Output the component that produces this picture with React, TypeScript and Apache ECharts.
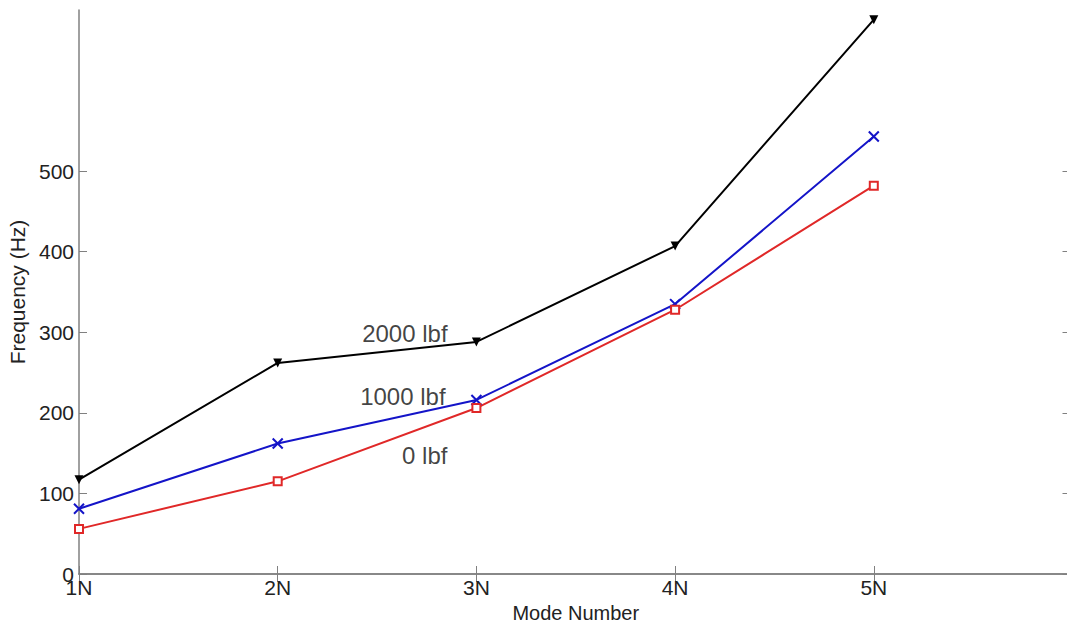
import React, { useEffect, useRef } from "react";
import * as echarts from "echarts";

const modes = [1, 2, 3, 4, 5];
const xTickLabels = ["1N", "2N", "3N", "4N", "5N"];
const yTickValues = [0, 100, 200, 300, 400, 500];
const load2000 = [117, 262, 288, 407, 688];
const load1000 = [81, 162, 216, 335, 543];
const load0 = [56, 115, 206, 328, 482];
const annotations = [
  { text: "2000 lbf", x: 2.64, y: 299 },
  { text: "1000 lbf", x: 2.63, y: 220 },
  { text: "0 lbf", x: 2.74, y: 147 },
];

const FONT = "'Liberation Sans', Arial, sans-serif";

export default function App() {
  const ref = useRef<HTMLDivElement>(null);
  useEffect(() => {
    const chart = echarts.init(ref.current!, null, { renderer: "svg" });
    const axisColor = "#808080";
    const pair = (arr: number[]) => modes.map((m, i) => [m, arr[i]]);
    chart.setOption({
      animation: false,
      backgroundColor: "#ffffff",
      grid: { left: 79, top: 10, width: 993.5, bottom: 49, containLabel: false, outerBoundsMode: "none" },
      xAxis: [
        {
          type: "value",
          min: 1,
          max: 6,
          interval: 1,
          position: "bottom",
          name: "Mode Number",
          nameLocation: "middle",
          nameGap: 23,
          nameTextStyle: { fontFamily: FONT, fontSize: 20, color: "#222", lineHeight: 20 },
          axisLine: { lineStyle: { color: axisColor, width: 1.5 } },
          axisTick: { inside: true, length: 8, lineStyle: { color: axisColor }, customValues: modes },
          axisLabel: {
            customValues: modes,
            formatter: (v: number) => xTickLabels[modes.indexOf(v)] ?? "",
            fontFamily: FONT,
            fontSize: 21,
            color: "#222",
            margin: 3,
          },
          splitLine: { show: false },
        },
        {
          type: "value",
          min: 1,
          max: 6,
          interval: 1,
          position: "top",
          axisLine: { lineStyle: { color: axisColor, width: 1.5 } },
          axisTick: { inside: true, length: 8, lineStyle: { color: axisColor }, customValues: modes },
          axisLabel: { show: false },
          splitLine: { show: false },
        },
      ],
      yAxis: [
        {
          type: "value",
          min: 0,
          max: 700,
          interval: 100,
          position: "left",
          name: "Frequency (Hz)",
          nameLocation: "middle",
          nameGap: 46,
          nameTextStyle: { fontFamily: FONT, fontSize: 21, color: "#222" },
          axisLine: { show: true, lineStyle: { color: axisColor, width: 1.5 } },
          axisTick: { show: true, inside: true, length: 8, lineStyle: { color: axisColor }, customValues: yTickValues },
          axisLabel: {
            customValues: yTickValues,
            fontFamily: FONT,
            fontSize: 21,
            color: "#222",
            margin: 5,
          },
          splitLine: { show: false },
        },
        {
          type: "value",
          min: 0,
          max: 700,
          interval: 100,
          position: "right",
          axisLine: { show: true, lineStyle: { color: axisColor, width: 1.5 } },
          axisTick: { show: true, inside: true, length: 10, lineStyle: { color: axisColor }, customValues: yTickValues },
          axisLabel: { show: false },
          splitLine: { show: false },
        },
      ],
      series: [
        {
          type: "line",
          name: "2000 lbf",
          data: pair(load2000),
          symbol: "triangle",
          symbolRotate: 180,
          symbolSize: 9,
          lineStyle: { color: "#000000", width: 2 },
          itemStyle: { color: "#000000" },
        },
        {
          type: "line",
          name: "1000 lbf",
          data: pair(load1000),
          symbol: "path://M0,0L10,10M10,0L0,10",
          symbolSize: 10,
          lineStyle: { color: "#1414c8", width: 2 },
          itemStyle: { color: "#1414c8", borderColor: "#1414c8", borderWidth: 2 },
        },
        {
          type: "line",
          name: "0 lbf",
          data: pair(load0),
          symbol: "emptyRect",
          symbolSize: 8,
          lineStyle: { color: "#e02828", width: 2 },
          itemStyle: { color: "#e02828", borderColor: "#e02828", borderWidth: 2 },
        },
        {
          type: "scatter",
          data: annotations.map((a) => [a.x, a.y]),
          symbolSize: 0,
          silent: true,
          label: {
            show: true,
            position: "inside",
            formatter: (p: any) => annotations[p.dataIndex].text,
            fontFamily: FONT,
            fontSize: 24,
            color: "#111",
          },
        },
      ],
    });
    return () => chart.dispose();
  }, []);
  return (
    <div
      ref={ref}
      style={{ position: "absolute", left: 0, top: 0, width: 1067, height: 623 }}
    />
  );
}
